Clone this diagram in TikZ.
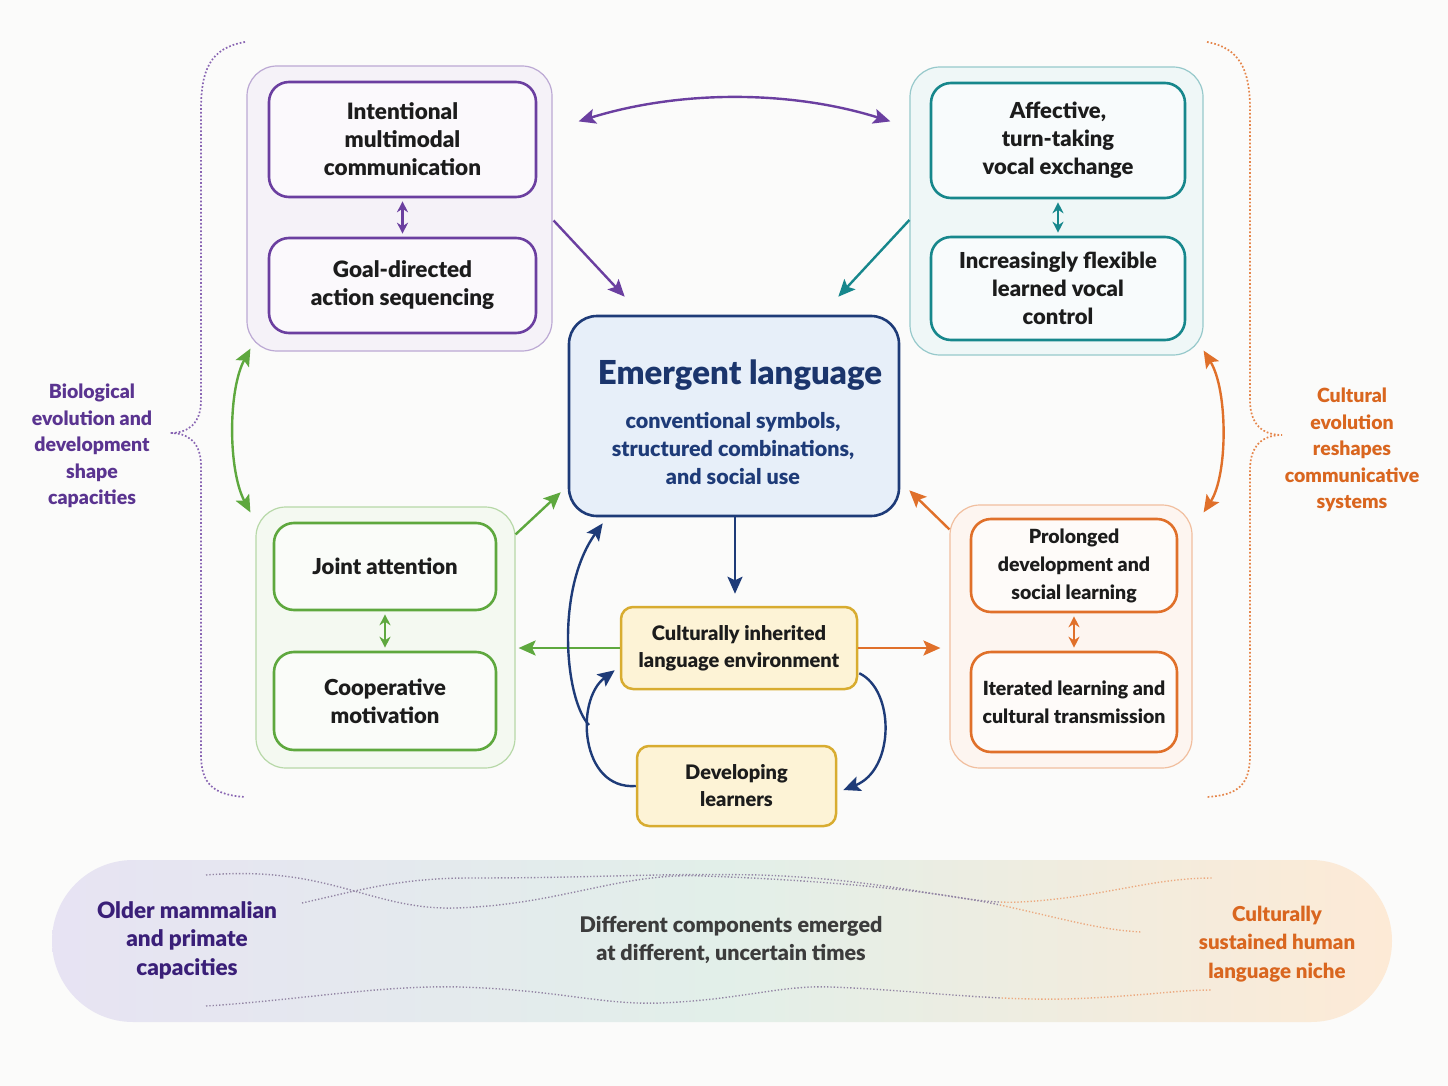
\documentclass[tikz,border=0pt]{standalone}
\usepackage{fontspec}
\setmainfont{Lato}[BoldFont={Lato Black}]
\usetikzlibrary{arrows.meta,calc}

\definecolor{bioPurple}{HTML}{6B3FA0}
\definecolor{vocalTeal}{HTML}{17878C}
\definecolor{jointGreen}{HTML}{5EA83E}
\definecolor{cultOrange}{HTML}{E0702A}
\definecolor{langNavy}{HTML}{1E3B78}
\definecolor{langFill}{HTML}{E7EFF9}
\definecolor{envGold}{HTML}{D8AC30}
\definecolor{envFill}{HTML}{FDF3D6}
\definecolor{inkText}{HTML}{1C1C1C}
\definecolor{pageBg}{HTML}{FBFBFA}
\definecolor{bandLeft}{HTML}{E7E3F3}
\definecolor{bandMid}{HTML}{E2EFE9}
\definecolor{bandRight}{HTML}{FDEAD6}
\definecolor{labelPurple}{HTML}{5A3490}
\definecolor{olderPurple}{HTML}{3A1F78}
\definecolor{labelOrange}{HTML}{D9661F}
\definecolor{midGray}{HTML}{3C3C3C}

\begin{document}
\begin{tikzpicture}
[x=1pt,y=-1pt,
  outerBox/.style={draw=#1!45,fill=#1!7,line width=1.2pt,rounded corners=30pt,inner sep=0pt},
  innerBox/.style={draw=#1,fill=#1!3,line width=2.6pt,rounded corners=20pt,inner sep=0pt,align=center,text=inkText},
  yellowBox/.style={draw=envGold,fill=envFill,line width=2.5pt,rounded corners=12pt,inner sep=0pt,align=center,text=inkText,font=\bfseries\fontsize{20}{27}\selectfont},
  sideLabel/.style={align=center,font=\bfseries\fontsize{19.5}{26.5}\selectfont},
  bandLabel/.style={align=center,font=\bfseries\fontsize{21.5}{28.5}\selectfont},
  linkArrow/.style={line width=2.4pt,-{Stealth[length=17pt,width=15pt,inset=3.5pt]}},
  bothArrow/.style={line width=2.4pt,{Stealth[length=17pt,width=15pt,inset=3.5pt]}-{Stealth[length=17pt,width=15pt,inset=3.5pt]}},
  pairArrow/.style={line width=2.4pt,{Stealth[length=11pt,width=11pt]}-{Stealth[length=11pt,width=11pt]},shorten <=3pt,shorten >=3pt},
  braceLine/.style={line width=1.7pt,dotted},
  waveLine/.style={line width=1.4pt,dash pattern=on 1.3pt off 2pt}]
\useasboundingbox (0,0) rectangle (1448,1086);
\fill[pageBg] (0,0) rectangle (1448,1086);

%% braces at the sides
\draw[braceLine,bioPurple!80] (245,42) .. controls (210,48) and (201,70) .. (201,110)
  -- (201,400) .. controls (201,424) and (188,433) .. (170,433)
  .. controls (188,433) and (201,442) .. (201,466) -- (201,755)
  .. controls (201,785) and (215,795) .. (245,797);
\draw[braceLine,cultOrange!85] (1207,42) .. controls (1240,48) and (1250,70) .. (1250,110)
  -- (1250,400) .. controls (1250,425) and (1263,435) .. (1282,435)
  .. controls (1263,435) and (1250,445) .. (1250,470) -- (1250,755)
  .. controls (1250,785) and (1238,795) .. (1207,797);
\node[sideLabel,text=labelPurple] (bioLabel) at (92,446) {Biological\\evolution and\\development\\shape\\capacities};
\node[sideLabel,text=labelOrange] (cultLabel) at (1352,450) {Cultural\\evolution\\reshapes\\communicative\\systems};

%% group boxes
\foreach \groupname/\col/\x/\y/\w/\h in {
  bioGroup/bioPurple/399.5/208.5/305/285, tealGroup/vocalTeal/1056.5/211/293/288,
  greenGroup/jointGreen/385.5/637.5/259/261, orangeGroup/cultOrange/1071/636.5/242/263}
{
  \node[outerBox=\col,minimum width=\w,minimum height=\h] (\groupname) at (\x,\y) {};
}

%% inner boxes
\foreach \nodename/\col/\x/\y/\w/\h/\fs/\txt in {
  im/bioPurple/402.5/139.5/267/115/22.5/{Intentional\\multimodal\\communication},
  gd/bioPurple/402.5/285.5/267/95/22.5/{Goal-directed\\action sequencing},
  af/vocalTeal/1058/140.5/254/115/22/{Affective,\\turn-taking\\vocal exchange},
  ifl/vocalTeal/1058/288.5/254/103/22/{Increasingly flexible\\learned vocal\\control},
  ja/jointGreen/385/566.5/222/87/22/{Joint attention},
  cm/jointGreen/385/701/222/98/22/{Cooperative\\motivation},
  pd/cultOrange/1074/565.5/206/93/19.5/{Prolonged\\development and\\social learning},
  il/cultOrange/1074/702/206/100/19.5/{Iterated learning and\\cultural transmission}}
{
  \node[innerBox=\col,minimum width=\w,minimum height=\h,font=\bfseries\fontsize{\fs}{28}\selectfont] (\nodename) at (\x,\y) {\txt};
}
\foreach \upper/\lower/\col in {im/gd/bioPurple, af/ifl/vocalTeal, ja/cm/jointGreen, pd/il/cultOrange}
{
  \draw[pairArrow,\col] (\upper.south) -- (\lower.north);
}

%% centre and environment
\node[draw=langNavy,fill=langFill,line width=2.6pt,rounded corners=28pt,minimum width=330,minimum height=200] (lang) at (734,416) {};
\node[text=langNavy!90!black,font=\bfseries\fontsize{33}{38}\selectfont] (langTitle) at (740,375) {Emergent language};
\node[text=langNavy,align=center,font=\bfseries\fontsize{21.5}{28}\selectfont] (langSub) at (733,448) {conventional symbols,\\structured combinations,\\and social use};
\node[yellowBox,minimum width=236,minimum height=82] (env) at (739,648) {Culturally inherited\\language environment};
\node[yellowBox,minimum width=199,minimum height=80] (learners) at (736.5,786) {Developing\\learners};
\coordinate (loopFork) at (589,725);

%% connectors
\draw[bothArrow,bioPurple] ($(bioGroup.north east)+(26,56)$) .. controls (680,90) and (790,90) .. ($(tealGroup.north west)+(-19,55)$);
\draw[linkArrow,bioPurple] ($(bioGroup.east)+(1,12)$) -- ($(lang.north west)+(57,-18)$);
\draw[linkArrow,vocalTeal] ($(tealGroup.west)+(0,9)$) -- ($(lang.north east)+(-62,-18)$);
\draw[linkArrow,jointGreen] ($(greenGroup.north east)+(0,28)$) -- ($(lang.south west)+(-7,-25)$);
\draw[linkArrow,cultOrange] ($(orangeGroup.north west)+(0,25)$) -- ($(lang.south east)+(9,-27)$);
\draw[bothArrow,jointGreen] ($(greenGroup.north west)+(-5,6)$) .. controls (228,470) and (228,390) .. ($(bioGroup.south west)+(4,-3)$);
\draw[bothArrow,cultOrange] ($(tealGroup.south east)+(0,-5)$) .. controls (1228,390) and (1228,475) .. ($(orangeGroup.north east)+(11,8)$);
\draw[linkArrow,langNavy,shorten >=12pt] (lang.south -| 735,0) -- (env.north -| 735,0);
\draw[linkArrow,jointGreen,shorten >=3pt] (env.west) -- (env.west -| greenGroup.east);
\draw[linkArrow,cultOrange,shorten >=9pt] (env.east) -- (env.east -| orangeGroup.west);
\draw[linkArrow,langNavy] ($(env.south east)+(1,-17)$) .. controls (895,690) and (895,770) .. ($(learners.east)+(6,4)$);
\draw[linkArrow,langNavy] (learners.west) .. controls (580,790) and (575,700) .. ($(env.south west)+(-5,-20)$);
\draw[linkArrow,langNavy] (loopFork) .. controls (565,700) and (555,590) .. ($(lang.south west)+(35,6)$);

%% time band
\node[left color=bandLeft,right color=bandRight,middle color=bandMid,rounded corners=81pt,minimum width=1340,minimum height=162,inner sep=0pt] (timeBand) at (722,941) {};
\foreach \wavecol/\cutx/\cutw in {bioPurple!40!gray!80/0/1000, cultOrange!60/1000/448}
{
  \begin{scope}
    \clip (\cutx,850) rectangle ++(\cutw,180);
    \draw[waveLine,\wavecol] (206,875) .. controls (330,865) and (370,910) .. (455,908)
      .. controls (560,905) and (620,872) .. (704,876) .. controls (820,880) and (930,890) .. (1000,905)
      .. controls (1060,918) and (1100,930) .. (1141,932);
    \draw[waveLine,\wavecol] (302,903) .. controls (360,890) and (400,878) .. (470,878)
      .. controls (600,878) and (650,873) .. (760,875) .. controls (900,880) and (960,905) .. (1020,902)
      .. controls (1100,898) and (1150,878) .. (1212,878);
    \draw[waveLine,\wavecol] (206,1006) .. controls (300,1000) and (380,985) .. (460,987)
      .. controls (560,990) and (600,1005) .. (660,1003) .. controls (740,1000) and (780,985) .. (830,987)
      .. controls (920,990) and (1000,1003) .. (1090,998) .. controls (1150,995) and (1180,990) .. (1212,990);
  \end{scope}
}
\node[bandLabel,text=olderPurple,font=\bfseries\fontsize{22.5}{28.5}\selectfont] (olderLabel) at (187,940) {Older mammalian\\and primate\\capacities};
\node[bandLabel,text=midGray] (timeLabel) at (731,940) {Different components emerged\\at different, uncertain times};
\node[bandLabel,text=labelOrange,font=\bfseries\fontsize{20.5}{28.5}\selectfont] (nicheLabel) at (1277,944) {Culturally\\sustained human\\language niche};
\end{tikzpicture}
\end{document}
